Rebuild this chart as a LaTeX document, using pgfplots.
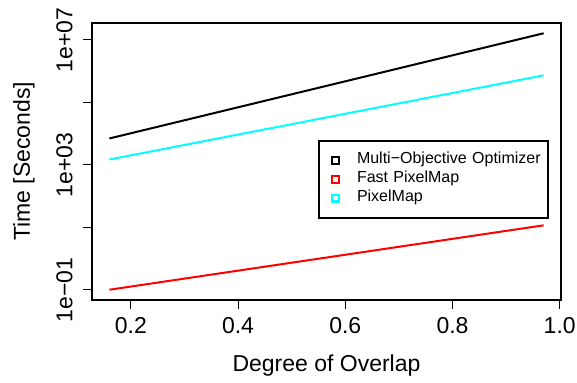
\documentclass[border=0pt]{standalone}
\usepackage{fontspec}
\setmainfont{Liberation Sans}
\usepackage{pgfplots}
\pgfplotsset{compat=1.18}

\definecolor{rred}{RGB}{255,0,0}
\definecolor{rcyan}{RGB}{0,255,255}

\begin{document}
\begin{tikzpicture}
\begin{axis}[
  at={(0,0)}, anchor=south west,
  scale only axis, width=234.5pt, height=138.5pt,
  xmin=0.1276, xmax=1.0024,
  ymode=log, ymin=0.04691, ymax=3.50e7,
  axis line style={line width=1.3pt},
  tick align=outside, major tick length=4.3pt,
  every tick/.style={black, line width=0.5pt},
  xtick pos=left, ytick pos=left,
  xtick={0.2,0.4,0.6,0.8,1.0},
  xticklabels={0.2,0.4,0.6,0.8,1.0},
  ytick={0.1,10,1000,100000,10000000},
  yticklabels={1e−01,,1e+03,,1e+07},
  yminorticks=false,
  /pgf/number format/assume math mode=true,
  tick label style={font=\fontsize{11.5}{13}\selectfont},
  xticklabel style={anchor=north, inner sep=0pt, yshift=-4.4pt},
  yticklabel style={xshift=-5.5pt, rotate=90, anchor=base, inner sep=0pt},
  label style={font=\fontsize{11.5}{13}\selectfont},
  xlabel={Degree of Overlap},
  ylabel={Time [Seconds]},
  xlabel style={at={(axis description cs:0.5,-0.2599)}, anchor=base, inner sep=0pt},
  ylabel style={at={(axis description cs:-0.1322,0.5)}, anchor=base, inner sep=0pt},
  legend style={at={(axis description cs:0.4819,0.5776)}, anchor=north west,
    draw=black, line width=1pt, fill=white,
    inner xsep=0pt, inner ysep=5.2pt, row sep=0pt,
    font=\fontsize{8}{9.35}\selectfont,
    nodes={inner sep=0pt, text height=6.3pt, text depth=3.05pt},
    /tikz/every even column/.append style={text width=95.5pt}},
  legend cell align=left,
  legend image code/.code={%
    \path (0pt,0pt) (18pt,0pt);
    \draw[#1, solid, line width=1.1pt, fill=none] (5.95pt,-1.7pt) rectangle (9.35pt,1.7pt);},
]
% Multi-objective optimizer
\addplot[black, line width=1pt] coordinates {(0.16,7000) (0.97,1.64e7)};
\addlegendentry{Multi−Objective Optimizer}
% Fast PixelMap
\addplot[rred, line width=1pt] coordinates {(0.16,0.1) (0.97,11.56)};
\addlegendentry{Fast PixelMap}
% PixelMap
\addplot[rcyan, line width=1pt] coordinates {(0.16,1483) (0.97,7.36e5)};
\addlegendentry{PixelMap}
\end{axis}
\pgfresetboundingbox
\path[use as bounding box] (-46pt,-41.5pt) rectangle (242.5pt,150pt);
\end{tikzpicture}
\end{document}
